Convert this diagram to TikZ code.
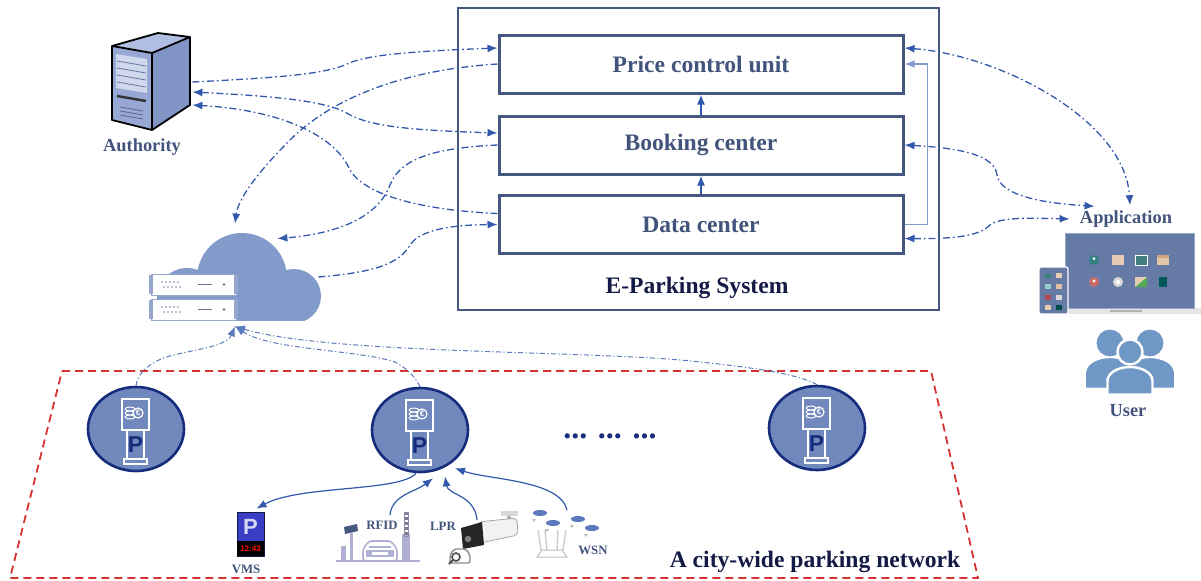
\documentclass[tikz,border=0pt]{standalone}
\usepackage{fontspec}
\setmainfont{Liberation Serif}
\setsansfont{Liberation Sans}
\usetikzlibrary{arrows.meta,calc,shapes.geometric}
\definecolor{boxline}{RGB}{68,88,130}
\definecolor{labeltext}{RGB}{66,84,124}
\definecolor{linkblue}{RGB}{50,88,172}
\definecolor{paleline}{RGB}{132,152,202}
\definecolor{kioskfill}{RGB}{112,136,188}
\definecolor{kioskrim}{RGB}{22,44,124}
\definecolor{cloudfill}{RGB}{131,155,203}
\definecolor{netred}{RGB}{214,50,50}
\definecolor{srvfront}{RGB}{152,168,212}
\definecolor{srvside}{RGB}{128,148,198}
\definecolor{srvtop}{RGB}{176,190,226}
\definecolor{slabline}{RGB}{150,166,204}
\definecolor{screenblue}{RGB}{102,122,166}
\definecolor{userblue}{RGB}{112,152,198}
\definecolor{gatelav}{RGB}{176,176,212}
\definecolor{vmsblue}{RGB}{58,62,196}
\definecolor{navytext}{RGB}{20,26,70}
\tikzset{
  unitbox/.style={draw=boxline, line width=1.5pt, fill=white, minimum width=202pt,
    minimum height=29pt, inner sep=0pt, text=labeltext, font=\bfseries\fontsize{11.8}{14}\selectfont},
  unitlabel/.style={text=navytext, font=\bfseries\fontsize{11.8}{14}\selectfont, inner sep=1pt},
  iconlabel/.style={text=labeltext, font=\bfseries\fontsize{9.2}{11}\selectfont, inner sep=1pt},
  tinylabel/.style={text=labeltext, font=\bfseries\fontsize{6.4}{8}\selectfont, inner sep=1pt},
  linkdash/.style={draw=linkblue, line width=0.65pt, dash pattern=on 3.5pt off 1.5pt on 0.8pt off 1.5pt},
  kiosklink/.style={draw=linkblue!80, line width=0.5pt, dash pattern=on 2.5pt off 1.2pt on 0.6pt off 1.2pt},
  uplink/.style={draw=linkblue, line width=0.8pt},
  sensorlink/.style={draw=linkblue, line width=0.6pt},
  kiosk/.style={ellipse, draw=kioskrim, line width=1.3pt, fill=kioskfill,
    minimum width=48pt, minimum height=42pt, inner sep=0pt}
}
% one rack slab of the cloud server, top edge at y=#1
\newcommand{\serverslab}[1]{
  \draw[slabline, fill=white, line width=0.5pt] (151,#1) rectangle (236,#1+21);
  \fill[slabline] (149,#1+1) rectangle (153,#1+20);
  \fill[slabline] (234,#1+1) rectangle (238,#1+20);
  \foreach \i in {0,...,4}{
    \fill[slabline!80!black] (162+4*\i,#1+8) circle (0.9);
    \fill[slabline!80!black] (164+4*\i,#1+13) circle (0.9);
  }
  \draw[slabline!70!black, line width=0.7pt] (198,#1+10.5) -- (212,#1+10.5);
  \fill[slabline!70!black] (224,#1+10.5) circle (1.4);
}
% parking pay station inside kiosk node #1
\newcommand{\kioskpost}[1]{
  \begin{scope}[shift={(#1.center)}]
    \draw[white, line width=0.9pt] (-14,-30) rectangle (13,1);
    \foreach \s in {-20,-16,-12}
      \draw[white, fill=kioskfill, line width=0.5pt] (-6,\s) ellipse (5 and 2);
    \draw[white, fill=kioskfill, line width=0.6pt] (2,-16) circle (5);
    \node[text=white, font=\sffamily\bfseries\fontsize{4}{4}\selectfont, inner sep=0] at (2,-16) {€};
    \draw[white, line width=0.9pt] (-9,1) -- (-9,30) -- (8,30) -- (8,1);
    \draw[white, line width=0.9pt] (-12,30) rectangle (11,35);
    \node[text=kioskrim, font=\sffamily\bfseries\fontsize{11.5}{11.5}\selectfont, inner sep=0] at (-0.5,16) {P};
  \end{scope}
}
% head centre, head radius, outline
\newcommand{\person}[4]{
  \draw[#4, fill=userblue] (#1,#2) circle (#3);
  \draw[#4, fill=userblue] (#1-1.8*#3,#2+3.4*#3) -- ++(0,-1.1*#3)
    arc[start angle=180, end angle=360, x radius=1.8*#3, y radius=1.1*#3] -- ++(0,1.1*#3) -- cycle;
}

\begin{document}
\begin{tikzpicture}[x=0.5pt,y=-0.5pt,>={Latex[length=5pt,width=4pt]}]
\useasboundingbox (0,0) rectangle (1201,580);

% e-parking system
\draw[boxline, line width=1.3pt] (458,8) rectangle (939,310);
\node[unitbox] (price) at (701,64) {Price control unit};
\node[unitbox] (booking) at (701,145) {Booking center};
\node[unitbox] (data) at (701,224.5) {Data center};
\node[unitlabel] (system) at (697,288) {E-Parking System};
\draw[->, uplink] (booking.north) -- (price.south);
\draw[->, uplink] (data.north) -- (booking.south);
\draw[->, paleline, line width=0.9pt] (data.east) -- ++(23,0) |- (price.east);

% authority server
\fill[srvside] (152,53) -- (190,37) -- (190,105) -- (152,130) -- cycle;
\fill[srvfront] (112,46) -- (152,53) -- (152,130) -- (112,120) -- cycle;
\fill[srvtop] (112,46) -- (158,33) -- (190,37) -- (152,53) -- cycle;
\fill[srvtop!60!white] (116,54) -- (147,59) -- (147,93) -- (116,88) -- cycle;
\foreach \v in {61,68,75,82}
  \draw[srvside!80!black, line width=0.4pt] (117,\v) -- (146,\v+5);
\draw[black!80, line width=1.2pt] (117,96) -- (146,101);
\foreach \v in {107,111,115}
  \draw[srvside!70!black, line width=0.4pt] (120,\v) -- (143,\v+4);
\draw[black, line width=0.9pt, line join=round] (112,46) -- (158,33) -- (190,37) -- (190,105)
  -- (152,130) -- (112,120) -- cycle (112,46) -- (152,53) -- (190,37) (152,53) -- (152,130);
\node[inner sep=0, minimum width=41pt, minimum height=49pt] (server) at (151,82) {};
\node[iconlabel] (authority) at (142,147) {Authority};

% cloud with rack servers
\begin{scope}
  \clip (140,220) rectangle (330,320.5);
  \fill[cloudfill] (242,278) circle (45) (294,296) circle (27) (187,298) circle (30);
  \fill[cloudfill] (170,285) rectangle (300,321);
\end{scope}
\node[inner sep=0, minimum width=86pt, minimum height=44pt] (cloud) at (236,276) {};
\serverslab{274}
\serverslab{299}

% links around the system
\draw[linkdash, ->] (server.east) .. controls (270,78) and (320,75) .. (345,65)
  .. controls (360,57) and (390,52) .. ($(price.west)+(0,-16)$);
\draw[linkdash, <->] ($(server.east)+(0,10)$) .. controls (270,96) and (320,100) .. (345,112)
  .. controls (365,125) and (400,130) .. ($(booking.west)+(0,-12)$);
\draw[linkdash, ->] ($(data.west)+(0,-11)$) .. controls (420,210) and (365,195) .. (350,170)
  .. controls (335,135) and (280,110) .. ($(server.east)+(0,23)$);
\draw[linkdash, ->] (price.west) .. controls (400,70) and (330,100) .. (290,140)
  .. controls (255,175) and (238,200) .. ($(cloud.north)+(-1,-8)$);
\draw[linkdash, ->] (booking.west) .. controls (430,148) and (400,160) .. (390,185)
  .. controls (375,225) and (320,235) .. ($(cloud.north east)+(-45,7)$);
\draw[linkdash, ->] ($(cloud.east)+(-4,1)$) .. controls (380,272) and (400,262) .. (410,245)
  .. controls (420,230) and (450,225) .. (data.west);

% application and user
\fill[black!10] (1063,308) rectangle (1201,314);
\draw[black!30, line width=0.6pt] (1110,311) -- (1142,311);
\draw[slabline, fill=screenblue, line width=0.5pt] (1065,233) rectangle (1194,308);
\fill[teal!60!gray] (1094,260) circle (5);
\fill[white] (1094,258.5) circle (1.5);
\fill[brown!40!white] (1112,255) rectangle (1124,265);
\draw[white, fill=teal!50!gray, line width=0.5pt] (1135,255) rectangle (1147,265);
\fill[brown!45!white] (1157,255) rectangle (1169,265);
\fill[brown!70!white] (1157,255) rectangle (1169,258);
\fill[red!45!gray!80!white] (1094,282) circle (5);
\fill[white] (1094,281) circle (1.6);
\fill[black!15] (1118,282) circle (5);
\fill[white] (1118,282) circle (2);
\fill[green!35!gray] (1135,277) rectangle (1147,287);
\fill[brown!40!white] (1135,277) -- (1147,277) -- (1135,287) -- cycle;
\fill[teal!70!black] (1159,277) rectangle (1167,287);
\draw[white, fill=screenblue, line width=0.6pt, rounded corners=1pt] (1039,267) rectangle (1068,314);
\foreach \ty/\ca/\cb in {275/teal!50!gray/brown!40!white, 286/teal!40!white/brown!50!white,
    297/red!40!gray/black!15, 307/brown!40!white/teal!60!black}{
  \fill[\ca] (1045,\ty-2.5) rectangle (1051,\ty+2.5);
  \fill[\cb] (1056,\ty-2.5) rectangle (1062,\ty+2.5);
}
\node[iconlabel] (app) at (1126,219) {Application};
\person{1110}{343}{13}{userblue}
\person{1150}{343}{13}{userblue}
\person{1130}{352}{12.5}{white, line width=1.2pt}
\node[iconlabel] (user) at (1128,411) {User};

\draw[linkdash, <->] ($(price.east)+(0,-16)$) .. controls (1000,55) and (1125,120) .. ($(app.north)+(4,-3)$);
\draw[linkdash, <->] (booking.east) .. controls (960,148) and (995,155) .. (997,175)
  .. controls (1000,195) and (1040,203) .. ($(app.north west)+(17,-2)$);
\draw[linkdash, <->] ($(data.east)+(0,14)$) .. controls (960,239) and (980,235) .. (990,225)
  .. controls (1000,217) and (1030,218) .. ($(app.west)+(-8,0)$);

% parking network
\draw[netred, line width=0.9pt, dash pattern=on 4pt off 2.5pt] (62,371) -- (931,371) -- (978,578) -- (10,578) -- cycle;
\foreach \n/\x/\y in {kioskA/136/429, kioskB/420/430, kioskC/817/428}{
  \node[kiosk] (\n) at (\x,\y) {};
  \kioskpost{\n}
}
\node[text=kioskrim, font=\bfseries\fontsize{16}{16}\selectfont, inner sep=0] (more) at (610,436) {... ... ...};
\node[unitlabel] (network) at (815,562) {A city-wide parking network};

\draw[kiosklink, ->] (kioskA.north) .. controls (137,380) and (140,370) .. (155,362)
  .. controls (175,350) and (225,350) .. ($(cloud.south)+(-1,6)$);
\draw[kiosklink, ->] (kioskB.north) .. controls (417,380) and (410,370) .. (395,362)
  .. controls (360,350) and (270,350) .. ($(cloud.south)+(-1,6)$);
\draw[kiosklink, ->] (kioskC.north) .. controls (800,375) and (760,368) .. (700,362)
  .. controls (600,350) and (330,355) .. ($(cloud.south)+(-1,6)$);

% VMS
\node[draw=navytext, line width=0.5pt, fill=vmsblue, minimum width=13.5pt, minimum height=22pt, inner sep=0] (vms) at (250.5,534) {};
\fill[black] (237,541) rectangle (264,556);
\node[text=white!80!vmsblue, font=\sffamily\bfseries\fontsize{11}{11}\selectfont, inner sep=0] at (250.5,527) {P};
\node[text=red!90!orange, font=\sffamily\bfseries\fontsize{4}{4}\selectfont, inner sep=0] at (250.5,548.5) {12:43};
\node[tinylabel] (vmslabel) at (246,569) {VMS};

% RFID gate
\draw[gatelav, line width=0.6pt] (336,561) -- (420,561);
\fill[gatelav] (341,546) rectangle (346,561);
\fill[gatelav] (350,533) rectangle (353,561);
\fill[boxline] (344,527) -- (357,524) -- (358,531) -- (345,534) -- cycle;
\draw[gatelav, line width=0.8pt, fill=white, rounded corners=1.5pt] (363,561) -- (363,549) -- (369,541)
  -- (391,541) -- (397,549) -- (397,561) -- cycle;
\fill[gatelav] (366,550) rectangle (394,557);
\fill[white] (372,552) rectangle (388,555);
\draw[gatelav, line width=0.6pt] (369,547) -- (391,547);
\fill[gatelav] (402,534) rectangle (410,561);
\foreach \k in {0,...,4}
  \fill[gatelav!70!black] (404,512+5*\k) rectangle (408,514.5+5*\k);
\draw[gatelav!80!black, line width=0.4pt] (404,512) rectangle (408,536);
\node[tinylabel] (rfid) at (382,525) {RFID};

% LPR camera
\node[tinylabel] (lpr) at (443,526) {LPR};
\fill[black!15] (501,511) rectangle (518,516);
\fill[black!30] (507,516) rectangle (511,521);
\draw[black!35, fill=black!5, line width=0.4pt, rounded corners=2pt] (478,522) -- (517,518) -- (518,535) -- (480,543) -- cycle;
\fill[black!85] (461,528) -- (482,522) -- (484,545) -- (463,549) -- cycle;
\fill[black!50] (468,539) circle (3.2);
\draw[black!45, line width=0.7pt, rounded corners=1pt] (450,563) -- (450,555) -- (454,549) -- (466,549)
  -- (470,555) -- (470,563) -- cycle;
\draw[black!70, line width=0.8pt, fill=white] (456,557) circle (4);
\draw[black!70, line width=1pt] (453,560) -- (449,564);

% WSN
\foreach \sx/\sy in {540/513, 553/523, 578/519, 592/528}{
  \fill[linkblue!80] (\sx,\sy) ellipse (7 and 3);
  \fill[black!25] (\sx-8,\sy+6) -- (\sx-4,\sy+6) -- (\sx-6,\sy+9) -- cycle;
}
\foreach \ax/\tx in {541/538, 547/545, 557/558, 563/566}
  \draw[black!20, line width=0.7pt] (\ax,550) -- (\tx,530);
\draw[black!25, fill=white, line width=0.5pt] (537,557) -- (567,557) -- (562,550) -- (542,550) -- cycle;
\node[tinylabel] (wsn) at (593,550) {WSN};

% sensing links
\draw[sensorlink, ->] ($(kioskB.south)+(-4,0)$) .. controls (400,492) and (300,485) .. ($(vms.north)+(6,-3)$);
\draw[sensorlink, ->] ($(rfid)+(8,-10)$) .. controls (392,495) and (415,492) .. ($(kioskB.south)+(13,5)$);
\draw[sensorlink, ->] ($(lpr)+(34,-6)$) .. controls (475,495) and (448,495) .. ($(kioskB.south)+(25,3)$);
\draw[sensorlink, ->] ($(wsn)+(-26,-40)$) .. controls (560,480) and (490,480) .. ($(kioskB.south)+(35,-5)$);
\end{tikzpicture}
\end{document}
